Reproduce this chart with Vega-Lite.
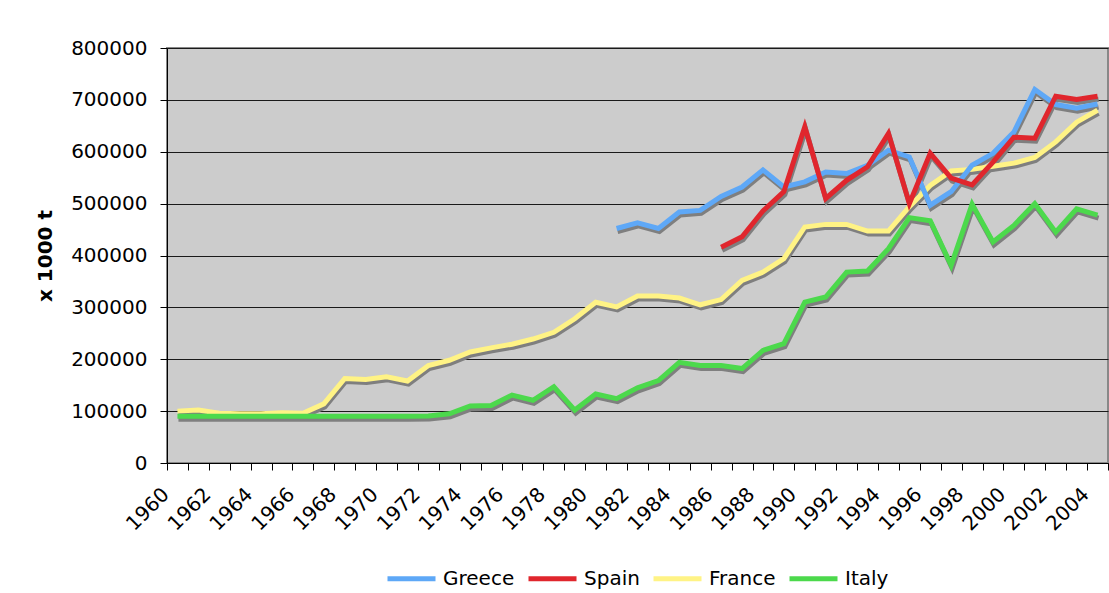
{
  "$schema": "https://vega.github.io/schema/vega-lite/v6.json",
  "autosize": "none",
  "width": 941,
  "height": 415,
  "padding": {"left": 167, "top": 48, "right": 1, "bottom": 130},
  "background": "white",
  "config": {
    "font": "DejaVu Sans",
    "view": {"fill": "#CCCCCC", "stroke": "#888888", "strokeWidth": 2}
  },
  "data": {
    "values": [
      {"year": 1960, "country": "France", "value": 100000},
      {"year": 1961, "country": "France", "value": 102000},
      {"year": 1962, "country": "France", "value": 96000},
      {"year": 1963, "country": "France", "value": 95000},
      {"year": 1964, "country": "France", "value": 95000},
      {"year": 1965, "country": "France", "value": 97000},
      {"year": 1966, "country": "France", "value": 96000},
      {"year": 1967, "country": "France", "value": 114000},
      {"year": 1968, "country": "France", "value": 163000},
      {"year": 1969, "country": "France", "value": 161000},
      {"year": 1970, "country": "France", "value": 166000},
      {"year": 1971, "country": "France", "value": 158000},
      {"year": 1972, "country": "France", "value": 188000},
      {"year": 1973, "country": "France", "value": 198000},
      {"year": 1974, "country": "France", "value": 214000},
      {"year": 1975, "country": "France", "value": 222000},
      {"year": 1976, "country": "France", "value": 229000},
      {"year": 1977, "country": "France", "value": 239000},
      {"year": 1978, "country": "France", "value": 252000},
      {"year": 1979, "country": "France", "value": 278000},
      {"year": 1980, "country": "France", "value": 310000},
      {"year": 1981, "country": "France", "value": 301000},
      {"year": 1982, "country": "France", "value": 322000},
      {"year": 1983, "country": "France", "value": 322000},
      {"year": 1984, "country": "France", "value": 318000},
      {"year": 1985, "country": "France", "value": 305000},
      {"year": 1986, "country": "France", "value": 315000},
      {"year": 1987, "country": "France", "value": 352000},
      {"year": 1988, "country": "France", "value": 368000},
      {"year": 1989, "country": "France", "value": 394000},
      {"year": 1990, "country": "France", "value": 455000},
      {"year": 1991, "country": "France", "value": 460000},
      {"year": 1992, "country": "France", "value": 460000},
      {"year": 1993, "country": "France", "value": 447000},
      {"year": 1994, "country": "France", "value": 447000},
      {"year": 1995, "country": "France", "value": 494000},
      {"year": 1996, "country": "France", "value": 535000},
      {"year": 1997, "country": "France", "value": 563000},
      {"year": 1998, "country": "France", "value": 566000},
      {"year": 1999, "country": "France", "value": 572000},
      {"year": 2000, "country": "France", "value": 578000},
      {"year": 2001, "country": "France", "value": 589000},
      {"year": 2002, "country": "France", "value": 619000},
      {"year": 2003, "country": "France", "value": 657000},
      {"year": 2004, "country": "France", "value": 680000},
      {"year": 1960, "country": "Italy", "value": 90000},
      {"year": 1961, "country": "Italy", "value": 90000},
      {"year": 1962, "country": "Italy", "value": 90000},
      {"year": 1963, "country": "Italy", "value": 90000},
      {"year": 1964, "country": "Italy", "value": 90000},
      {"year": 1965, "country": "Italy", "value": 90000},
      {"year": 1966, "country": "Italy", "value": 90000},
      {"year": 1967, "country": "Italy", "value": 90000},
      {"year": 1968, "country": "Italy", "value": 90000},
      {"year": 1969, "country": "Italy", "value": 90000},
      {"year": 1970, "country": "Italy", "value": 90000},
      {"year": 1971, "country": "Italy", "value": 90000},
      {"year": 1972, "country": "Italy", "value": 90500},
      {"year": 1973, "country": "Italy", "value": 95000},
      {"year": 1974, "country": "Italy", "value": 110000},
      {"year": 1975, "country": "Italy", "value": 111000},
      {"year": 1976, "country": "Italy", "value": 131000},
      {"year": 1977, "country": "Italy", "value": 121000},
      {"year": 1978, "country": "Italy", "value": 147000},
      {"year": 1979, "country": "Italy", "value": 102000},
      {"year": 1980, "country": "Italy", "value": 133000},
      {"year": 1981, "country": "Italy", "value": 124000},
      {"year": 1982, "country": "Italy", "value": 145000},
      {"year": 1983, "country": "Italy", "value": 159000},
      {"year": 1984, "country": "Italy", "value": 194000},
      {"year": 1985, "country": "Italy", "value": 188000},
      {"year": 1986, "country": "Italy", "value": 188000},
      {"year": 1987, "country": "Italy", "value": 182000},
      {"year": 1988, "country": "Italy", "value": 217000},
      {"year": 1989, "country": "Italy", "value": 230000},
      {"year": 1990, "country": "Italy", "value": 310000},
      {"year": 1991, "country": "Italy", "value": 320000},
      {"year": 1992, "country": "Italy", "value": 368000},
      {"year": 1993, "country": "Italy", "value": 370000},
      {"year": 1994, "country": "Italy", "value": 413000},
      {"year": 1995, "country": "Italy", "value": 473000},
      {"year": 1996, "country": "Italy", "value": 467000},
      {"year": 1997, "country": "Italy", "value": 381000},
      {"year": 1998, "country": "Italy", "value": 499000},
      {"year": 1999, "country": "Italy", "value": 426000},
      {"year": 2000, "country": "Italy", "value": 458000},
      {"year": 2001, "country": "Italy", "value": 500000},
      {"year": 2002, "country": "Italy", "value": 445000},
      {"year": 2003, "country": "Italy", "value": 490000},
      {"year": 2004, "country": "Italy", "value": 478000},
      {"year": 1981, "country": "Greece", "value": 452000},
      {"year": 1982, "country": "Greece", "value": 463000},
      {"year": 1983, "country": "Greece", "value": 452000},
      {"year": 1984, "country": "Greece", "value": 484000},
      {"year": 1985, "country": "Greece", "value": 487000},
      {"year": 1986, "country": "Greece", "value": 514000},
      {"year": 1987, "country": "Greece", "value": 532000},
      {"year": 1988, "country": "Greece", "value": 565000},
      {"year": 1989, "country": "Greece", "value": 532000},
      {"year": 1990, "country": "Greece", "value": 542000},
      {"year": 1991, "country": "Greece", "value": 561000},
      {"year": 1992, "country": "Greece", "value": 558000},
      {"year": 1993, "country": "Greece", "value": 574000},
      {"year": 1994, "country": "Greece", "value": 603000},
      {"year": 1995, "country": "Greece", "value": 590000},
      {"year": 1996, "country": "Greece", "value": 497000},
      {"year": 1997, "country": "Greece", "value": 523000},
      {"year": 1998, "country": "Greece", "value": 574000},
      {"year": 1999, "country": "Greece", "value": 597000},
      {"year": 2000, "country": "Greece", "value": 638000},
      {"year": 2001, "country": "Greece", "value": 720000},
      {"year": 2002, "country": "Greece", "value": 691000},
      {"year": 2003, "country": "Greece", "value": 684000},
      {"year": 2004, "country": "Greece", "value": 692000},
      {"year": 1986, "country": "Spain", "value": 416000},
      {"year": 1987, "country": "Spain", "value": 436000},
      {"year": 1988, "country": "Spain", "value": 486000},
      {"year": 1989, "country": "Spain", "value": 523000},
      {"year": 1990, "country": "Spain", "value": 648000},
      {"year": 1991, "country": "Spain", "value": 510000},
      {"year": 1992, "country": "Spain", "value": 545000},
      {"year": 1993, "country": "Spain", "value": 571000},
      {"year": 1994, "country": "Spain", "value": 635000},
      {"year": 1995, "country": "Spain", "value": 500000},
      {"year": 1996, "country": "Spain", "value": 597000},
      {"year": 1997, "country": "Spain", "value": 549000},
      {"year": 1998, "country": "Spain", "value": 536000},
      {"year": 1999, "country": "Spain", "value": 580000},
      {"year": 2000, "country": "Spain", "value": 628000},
      {"year": 2001, "country": "Spain", "value": 626000},
      {"year": 2002, "country": "Spain", "value": 707000},
      {"year": 2003, "country": "Spain", "value": 701000},
      {"year": 2004, "country": "Spain", "value": 707000}
    ]
  },
  "encoding": {
    "x": {
      "field": "year",
      "type": "ordinal",
      "bandPosition": 0.5,
      "scale": {"type": "band", "paddingInner": 0, "paddingOuter": 0},
      "axis": {
        "title": null,
        "tickBand": "extent",
        "grid": false,
        "domainColor": "#000000",
        "tickColor": "#000000",
        "tickSize": 7,
        "labelAngle": -45,
        "labelAlign": "right",
        "labelBaseline": "middle",
        "labelOffset": -12,
        "labelPadding": 21,
        "labelFontSize": 20,
        "labelColor": "#000000",
        "labelOverlap": false,
        "labelExpr": "datum.value % 2 == 0 ? datum.label : ''"
      }
    },
    "y": {
      "field": "value",
      "type": "quantitative",
      "scale": {"domain": [0, 800000], "nice": false},
      "axis": {
        "title": "x 1000 t",
        "titleFontSize": 20,
        "titleFontWeight": "bold",
        "titleColor": "#000000",
        "titlePadding": 15,
        "values": [0, 100000, 200000, 300000, 400000, 500000, 600000, 700000, 800000],
        "format": "d",
        "labelFontSize": 20,
        "labelColor": "#000000",
        "labelPadding": 13,
        "tickSize": 7,
        "tickColor": "#000000",
        "domainColor": "#000000",
        "gridColor": "#1a1a1a",
        "gridWidth": 1,
        "gridOpacity": 1
      }
    }
  },
  "layer": [
    {
      "mark": {"type": "line", "color": "#7f7f7f", "strokeWidth": 5, "xOffset": 1, "yOffset": 3, "strokeJoin": "miter", "strokeCap": "butt"},
      "encoding": {"detail": {"field": "country"}}
    },
    {
      "mark": {"type": "line", "strokeWidth": 5, "strokeJoin": "miter", "strokeCap": "butt"},
      "encoding": {
        "color": {
          "field": "country",
          "type": "nominal",
          "scale": {
            "domain": ["Greece", "Spain", "France", "Italy"],
            "range": ["#5EA8F7", "#E0262D", "#FFF385", "#4CD94C"]
          },
          "legend": {
            "title": null,
            "orient": "none",
            "direction": "horizontal",
            "legendX": 218,
            "legendY": 504,
            "symbolType": "stroke",
            "symbolSize": 2304,
            "symbolStrokeWidth": 5,
            "labelFontSize": 20,
            "labelColor": "#000000",
            "labelOffset": 5,
            "columnPadding": 3
          }
        }
      }
    }
  ]
}
